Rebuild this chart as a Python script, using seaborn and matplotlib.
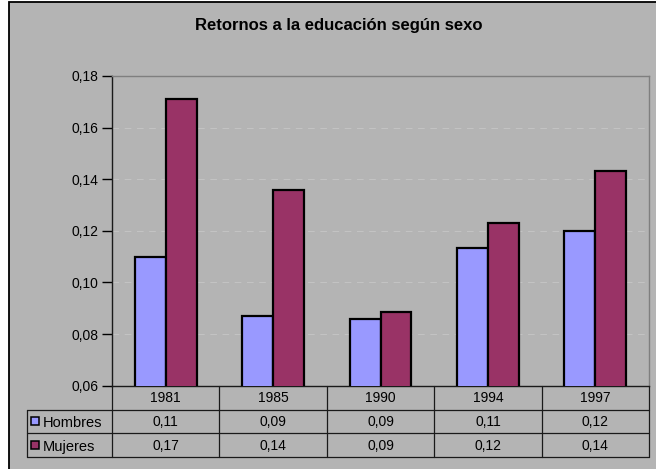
import matplotlib
matplotlib.use("Agg")
import matplotlib.pyplot as plt
import seaborn as sns
import pandas as pd
from matplotlib.patches import Rectangle
from matplotlib.lines import Line2D
from matplotlib.ticker import FixedLocator, FuncFormatter

# Returns to education by sex
years = ["1981", "1985", "1990", "1994", "1997"]
hombres = [0.110, 0.087, 0.086, 0.1135, 0.120]
mujeres = [0.171, 0.136, 0.0886, 0.123, 0.143]
series = ["Hombres", "Mujeres"]
colors = ["#9999ff", "#993366"]
yticks = [0.06, 0.08, 0.10, 0.12, 0.14, 0.16, 0.18]
title = "Retornos a la educación según sexo"

df = pd.DataFrame({
    "Año": years * 2,
    "Sexo": [series[0]] * len(years) + [series[1]] * len(years),
    "Retorno": hombres + mujeres,
})

sns.set_theme(style="white")
plt.rcParams["font.family"] = ["Liberation Sans", "DejaVu Sans"]
plt.rcParams["text.color"] = "black"

W, H = 656, 469
BG = "#b4b4b4"
LINE = "#1a1a1a"
fig = plt.figure(figsize=(W / 100, H / 100), dpi=100)
fig.patch.set_facecolor("white")


def fx(x):
    return x / W


def fy(y):
    return 1 - y / H


# grey chart area with its frame
fig.add_artist(Rectangle((fx(8.5), -0.1), 1.2, fy(2.5) + 0.1,
                         transform=fig.transFigure, facecolor=BG,
                         edgecolor="black", linewidth=1.3, zorder=0))

fig.text(fx(338.5), fy(30), title, ha="center", va="baseline",
         fontsize=12, fontweight="bold", color="black")

# plot area
L, R, T, B = 112, 649, 76, 385.6
ax = fig.add_axes([fx(L), fy(B), (R - L) / W, (B - T) / H])
ax.set_facecolor(BG)

sns.barplot(data=df, x="Año", y="Retorno", hue="Sexo", palette=colors,
            width=0.575, edgecolor="black", linewidth=1.6, saturation=1,
            legend=False, ax=ax, zorder=3)

ax.set_xlim(-0.5, len(years) - 0.5)
ax.set_ylim(yticks[0], yticks[-1])
ax.yaxis.set_major_locator(FixedLocator(yticks))
ax.yaxis.set_major_formatter(FuncFormatter(lambda v, _: f"{v:.2f}".replace(".", ",")))
ax.set_xticks([])
ax.set_xlabel("")
ax.set_ylabel("")
ax.set_axisbelow(True)
ax.grid(axis="y", color="#c3c3c3", linewidth=0.8, linestyle=(0, (6, 5)))
ax.tick_params(axis="y", left=True, direction="out", length=7, width=1,
               color="black", pad=3, labelsize=10, labelcolor="black")
for side in ("left", "bottom"):
    ax.spines[side].set_color(LINE)
    ax.spines[side].set_linewidth(1.0)
for side in ("top", "right"):
    ax.spines[side].set_color("#7f7f7f")
    ax.spines[side].set_linewidth(1.0)

# data table below the plot
ncol = len(years)
colw = (R - L) / ncol
xs = [L + i * colw for i in range(ncol + 1)]
r0, r1, r2, r3 = B, 409.5, 433, 456.5
lab_left = 27


def hline(y, x0, x1):
    fig.add_artist(Line2D([fx(x0), fx(x1)], [fy(y), fy(y)], color=LINE,
                          linewidth=0.9, transform=fig.transFigure))


def vline(x, y0, y1):
    fig.add_artist(Line2D([fx(x), fx(x)], [fy(y0), fy(y1)], color=LINE,
                          linewidth=0.9, transform=fig.transFigure))


for y in (r1, r2, r3):
    hline(y, lab_left, R)
vline(lab_left, r1, r3)
for x in xs:
    vline(x, r0, r3)

fs = 10
for i, yr in enumerate(years):
    cx = (xs[i] + xs[i + 1]) / 2
    fig.text(fx(cx), fy(402), yr, ha="center", va="baseline", fontsize=fs)
    fig.text(fx(cx), fy(425.5), f"{hombres[i]:.2f}".replace(".", ","),
             ha="center", va="baseline", fontsize=fs)
    fig.text(fx(cx), fy(449.5), f"{mujeres[i]:.2f}".replace(".", ","),
             ha="center", va="baseline", fontsize=fs)

for name, col, base, top in ((series[0], colors[0], 425.5, r1), (series[1], colors[1], 449.5, r2)):
    mid = (top + top + 23.5) / 2
    fig.add_artist(Rectangle((fx(31), fy(mid + 4)), 8 / W, 8 / H,
                             transform=fig.transFigure, facecolor=col,
                             edgecolor="black", linewidth=1.1))
    fig.text(fx(42.5), fy(base + 1), name, ha="left", va="baseline", fontsize=10.5)

fig.savefig("out.png", dpi=100, facecolor=fig.get_facecolor())
